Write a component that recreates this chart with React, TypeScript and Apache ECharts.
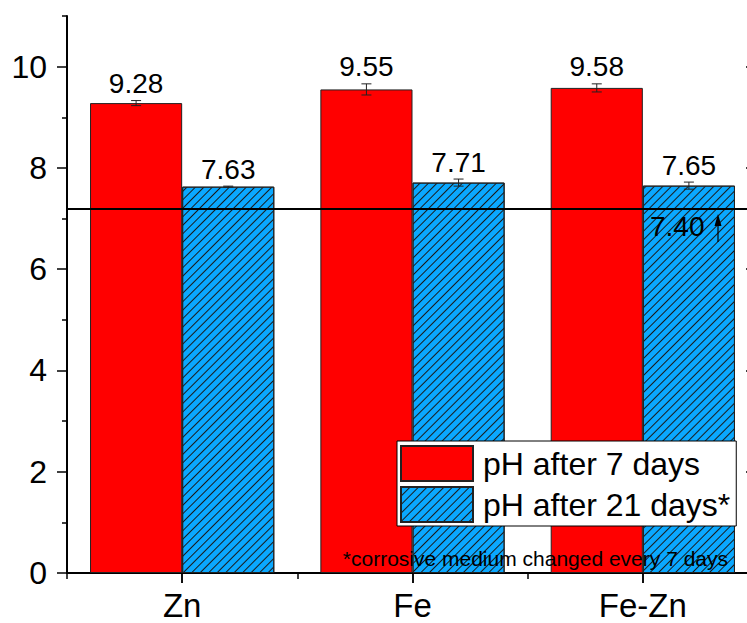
import React, { useEffect, useRef } from 'react';
import * as echarts from 'echarts';

const categories = ['Zn', 'Fe', 'Fe-Zn'];
const seriesNames = ['pH after 7 days', 'pH after 21 days*'];
const ph7 = [9.28, 9.55, 9.58];
const ph7Err = [0.05, 0.11, 0.08];
const ph21 = [7.63, 7.71, 7.65];
const ph21Err = [0.01, 0.07, 0.07];
const yMajorTicks = [0, 2, 4, 6, 8, 10];
const yMinorTicks = [1, 3, 5, 7, 9, 11];
const yMin = 0;
const yMax = 11;
const referenceValue = 7.2;
const referenceLabel = '7.40';
const footnote = '*corrosive medium changed every 7 days';

const FONT = '"Liberation Sans", Arial, Helvetica, sans-serif';
const RED = '#FF0000';
const BLUE = '#0AA8FF';

function errorSeries(values: number[], errs: number[], side: number) {
  return {
    type: 'custom',
    xAxisIndex: 0,
    yAxisIndex: 0,
    silent: true,
    z: 10,
    data: values.map((v, i) => [i, v, errs[i]]),
    renderItem: (params: any, api: any) => {
      const idx = api.value(0);
      const v = api.value(1);
      const e = api.value(2);
      const band = api.size([1, 0])[0];
      const off = side * band * 0.2;
      const lo = api.coord([idx, v - e]);
      const hi = api.coord([idx, v + e]);
      const x = lo[0] + off;
      const cap = 5;
      const stroke = { stroke: '#222', lineWidth: 1 };
      return {
        type: 'group',
        children: [
          { type: 'line', shape: { x1: x, y1: lo[1], x2: x, y2: hi[1] }, style: stroke },
          { type: 'line', shape: { x1: x - cap, y1: lo[1], x2: x + cap, y2: lo[1] }, style: stroke },
          { type: 'line', shape: { x1: x - cap, y1: hi[1], x2: x + cap, y2: hi[1] }, style: stroke },
          {
            type: 'text',
            x: x,
            y: hi[1] - 3,
            style: {
              text: v.toFixed(2),
              fontSize: 28,
              fontFamily: FONT,
              fill: '#000',
              align: 'center',
              verticalAlign: 'bottom',
            },
          },
        ],
      };
    },
  };
}

export default function App() {
  const ref = useRef<HTMLDivElement>(null);
  useEffect(() => {
    if (!ref.current) return;
    const chart = echarts.init(ref.current, undefined, { renderer: 'svg' });
    const axisLineStyle = { color: '#000', width: 2 };
    const option: any = {
      animation: false,
      backgroundColor: '#fff',
      textStyle: { fontFamily: FONT },
      grid: {
        left: 67,
        top: 16,
        width: 691,
        height: 557,
        containLabel: false,
        outerBoundsMode: 'none',
      },
      legend: {
        orient: 'vertical',
        left: 397,
        top: 441,
        data: seriesNames,
        icon: 'rect',
        itemWidth: 72,
        itemHeight: 35,
        itemGap: 4,
        padding: [4, 6, 3, 3],
        borderColor: '#000',
        borderWidth: 1,
        borderRadius: 0,
        backgroundColor: '#fff',
        textStyle: { fontSize: 32, color: '#000', fontFamily: FONT, padding: [0, 0, 0, 5] },
        z: 20,
      },
      xAxis: [
        {
          type: 'category',
          data: categories,
          position: 'bottom',
          axisLine: { show: true, lineStyle: axisLineStyle },
          axisTick: { show: true, alignWithLabel: false, length: 6, lineStyle: { color: '#000', width: 1.5 } },
          axisLabel: { fontSize: 33, color: '#000', fontFamily: FONT, margin: 16 },
          splitLine: { show: false },
        },
        {
          type: 'category',
          data: categories,
          position: 'bottom',
          axisLine: { show: false },
          axisTick: { show: true, alignWithLabel: true, length: 10, lineStyle: { color: '#000', width: 1.5 } },
          axisLabel: { show: false },
          splitLine: { show: false },
        },
        {
          type: 'category',
          data: categories,
          position: 'top',
          axisLine: { show: true, lineStyle: axisLineStyle },
          axisTick: { show: true, inside: true, alignWithLabel: true, length: 10, lineStyle: { color: '#000', width: 1.5 } },
          axisLabel: { show: false },
          splitLine: { show: false },
        },
      ],
      yAxis: [
        {
          type: 'value',
          min: yMin,
          max: yMax,
          position: 'left',
          axisLine: { show: true, lineStyle: axisLineStyle },
          axisTick: { show: true, length: 10, customValues: yMajorTicks, lineStyle: { color: '#000', width: 1.5 } },
          axisLabel: { fontSize: 32, color: '#000', fontFamily: FONT, margin: 20, customValues: yMajorTicks },
          splitLine: { show: false },
        },
        {
          type: 'value',
          min: yMin,
          max: yMax,
          position: 'left',
          axisLine: { show: false },
          axisTick: { show: true, length: 5, customValues: yMinorTicks, lineStyle: { color: '#000', width: 1.5 } },
          axisLabel: { show: false },
          splitLine: { show: false },
        },
        {
          type: 'value',
          min: yMin,
          max: yMax,
          position: 'right',
          axisLine: { show: true, lineStyle: axisLineStyle },
          axisTick: { show: true, inside: true, length: 12, customValues: yMajorTicks, lineStyle: { color: '#000', width: 1.5 } },
          axisLabel: { show: false },
          splitLine: { show: false },
        },
      ],
      series: [
        {
          name: seriesNames[0],
          type: 'bar',
          xAxisIndex: 0,
          yAxisIndex: 0,
          data: ph7,
          barGap: '0%',
          barCategoryGap: '20%',
          itemStyle: { color: RED, borderColor: '#222', borderWidth: 1 },
          markLine: {
            silent: true,
            symbol: 'none',
            label: { show: false },
            lineStyle: { color: '#000', width: 2, type: 'solid' },
            data: [{ yAxis: referenceValue }],
            z: 15,
          },
        },
        {
          name: seriesNames[1],
          type: 'bar',
          xAxisIndex: 0,
          yAxisIndex: 0,
          data: ph21,
          barGap: '0%',
          barCategoryGap: '20%',
          itemStyle: {
            color: BLUE,
            borderColor: '#222',
            borderWidth: 1,
            decal: {
              symbol: 'rect',
              symbolSize: 1,
              color: '#1a1a1a',
              dashArrayX: [1, 0],
              dashArrayY: [1, 4.5],
              rotation: -Math.PI / 4,
            },
          },
        },
        errorSeries(ph7, ph7Err, -1),
        errorSeries(ph21, ph21Err, 1),
      ],
      graphic: [
        {
          type: 'text',
          left: 650,
          top: 212,
          z: 30,
          style: { text: referenceLabel, fontSize: 28, fontFamily: FONT, fill: '#000' },
        },
        {
          type: 'line',
          z: 30,
          shape: { x1: 718, y1: 242, x2: 718, y2: 222 },
          style: { stroke: '#000', lineWidth: 1.2 },
        },
        {
          type: 'polygon',
          z: 30,
          shape: { points: [[714.5, 226], [721.5, 226], [718, 214]] },
          style: { fill: '#000' },
        },
        {
          type: 'text',
          right: 19,
          top: 548,
          z: 30,
          style: { text: footnote, fontSize: 21, fontFamily: FONT, fill: '#000' },
        },
      ],
    };
    chart.setOption(option);
    return () => chart.dispose();
  }, []);
  return (
    <div
      ref={ref}
      style={{ width: 747, height: 623, position: 'absolute', left: 0, top: 0, background: '#fff' }}
    />
  );
}
